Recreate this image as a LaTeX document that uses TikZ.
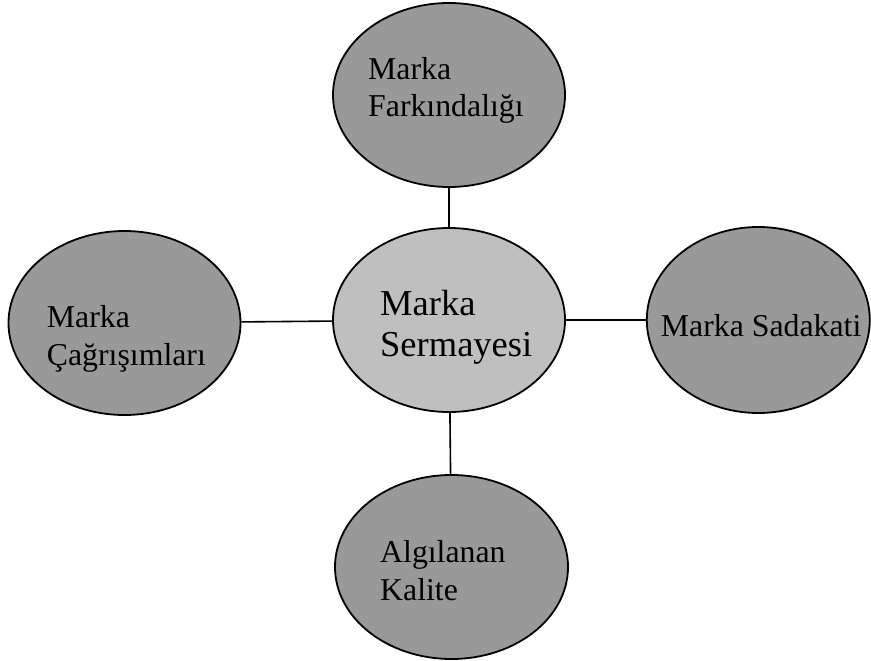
\documentclass[tikz,border=0pt]{standalone}
\usepackage{fontspec}
\setmainfont{Liberation Serif}
\usepackage{tikz}
\usetikzlibrary{shapes.geometric}
\definecolor{outerfill}{RGB}{153,153,153}
\definecolor{corefill}{RGB}{191,191,191}

\begin{document}
\begin{tikzpicture}[x=1pt, y=-1pt,
    part/.style={ellipse, draw, line width=1.8pt, fill=outerfill, inner sep=0pt, minimum width=232pt, minimum height=184pt},
    core/.style={part, fill=corefill},
    txt/.style={anchor=base west, inner sep=0pt, align=left, font=\fontsize{31.8}{37.5}\selectfont},
    coretxt/.style={txt, font=\fontsize{36.5}{41.7}\selectfont}]
  \useasboundingbox (0,0) rectangle (871,661);
  \node[core] (C) at (449, 320) {};
  \node[part] (F) at (449, 95) {};
  \node[part] (L) at (124.5, 323) {};
  \node[part, minimum width=223pt, minimum height=186pt] (R) at (758.3, 320) {};
  \node[part, minimum width=233pt] (K) at (451.5, 567) {};
  % base anchor sits on the last line
  \node[coretxt] (Ct) at (380, 356.7) {Marka\\Sermayesi};
  \node[txt] (Ft) at (368, 117) {Marka\\Farkındalığı};
  \node[txt] (Lt) at (46.7, 365) {Marka\\Çağrışımları};
  \node[txt] (Rt) at (660.7, 336.7) {Marka Sadakati};
  \node[txt] (Kt) at (380, 600) {Algılanan\\Kalite};
  \draw[line width=1.6pt] (F) -- (C);
  \draw[line width=1.6pt] (L) -- (C);
  \draw[line width=1.6pt] (C) -- (R);
  \draw[line width=1.6pt] (C) -- (K);
\end{tikzpicture}
\end{document}
